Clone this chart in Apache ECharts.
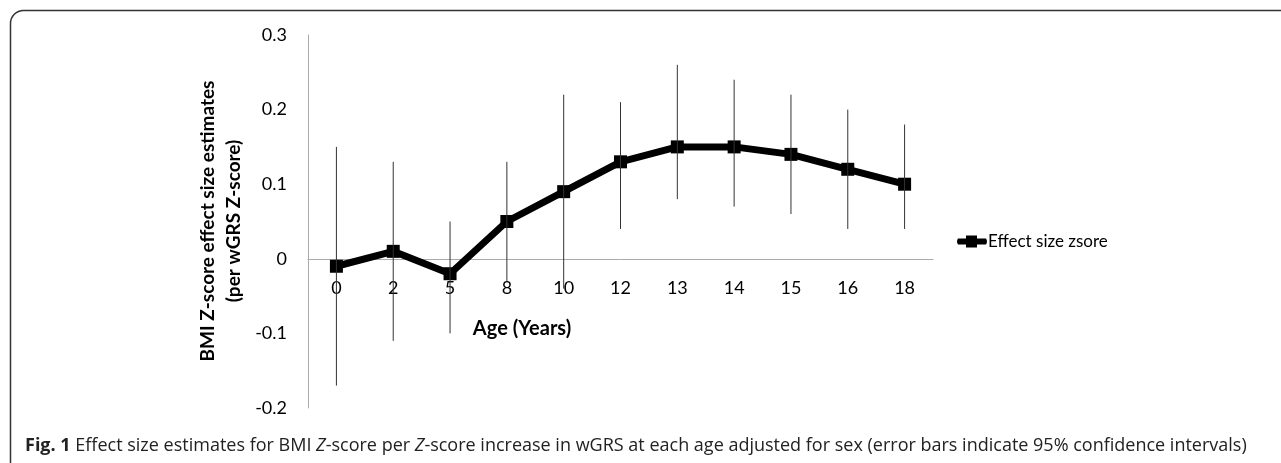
<!DOCTYPE html>
<html>
<head>
<meta charset="utf-8">
<script src="https://cdn.jsdelivr.net/npm/echarts@6/dist/echarts.min.js"></script>
<style>html,body{margin:0;padding:0;background:#fff;}#c{width:1281px;height:463px;}</style>
</head>
<body>
<div id="c"></div>
<script>
const ages = ['0','2','5','8','10','12','13','14','15','16','18'];
const effect = [-0.01, 0.01, -0.02, 0.05, 0.09, 0.13, 0.15, 0.15, 0.14, 0.12, 0.10];
const ciLower = [-0.17, -0.11, -0.10, -0.03, -0.04, 0.04, 0.08, 0.07, 0.06, 0.04, 0.04];
const ciUpper = [0.15, 0.13, 0.05, 0.13, 0.22, 0.21, 0.26, 0.24, 0.22, 0.20, 0.18];
const yTicks = {min: -0.2, max: 0.3, interval: 0.1};

const errData = ages.map((a, i) => [i, ciLower[i], ciUpper[i]]);

const gridTop = 35, gridBottom = 55, H = 463;
const plotH = H - gridTop - gridBottom;
const zeroOffset = -plotH * (0 - yTicks.min) / (yTicks.max - yTicks.min);

const chart = echarts.init(document.getElementById('c'));
chart.setOption({
  animation: false,
  backgroundColor: '#fff',
  grid: {left: 308, right: 348, top: gridTop, bottom: gridBottom, containLabel: false, outerBoundsMode: 'none'},
  legend: {
    data: [{name: 'Effect size zsore', icon: 'path://M2,3 L30,3 Q32,6 30,9 L2,9 Q0,6 2,3 Z M10,0 L21,0 L21,12 L10,12 Z'}],
    left: 952, top: 228,
    itemWidth: 32, itemHeight: 12, itemGap: 2,
    itemStyle: {color: '#000'},
    textStyle: {fontFamily: 'Lato', fontSize: 17, color: '#000', padding: [0, 0, 0, -5]}
  },
  xAxis: {
    type: 'category',
    data: ages,
    offset: zeroOffset,
    axisLine: {onZero: false, lineStyle: {color: '#aaa', width: 1}},
    axisTick: {show: false},
    axisLabel: {margin: 20, fontFamily: 'Lato', fontSize: 18, color: '#000'},
    splitLine: {show: false}
  },
  yAxis: {
    type: 'value',
    min: yTicks.min, max: yTicks.max, interval: yTicks.interval,
    axisLine: {show: true, lineStyle: {color: '#aaa', width: 1}},
    axisTick: {show: false},
    splitLine: {show: false},
    axisLabel: {
      margin: 21, fontFamily: 'Lato', fontSize: 18, color: '#000',
      formatter: v => String(Math.round(v * 10) / 10)
    }
  },
  graphic: [
    {type: 'rect', shape: {x: 10.5, y: 10.5, width: 1400, height: 600, r: 13},
     style: {fill: 'none', stroke: '#333', lineWidth: 1.5}, silent: true, z: 0},
    {type: 'text', x: 221, y: 221, rotation: Math.PI / 2,
     style: {text: 'BMI Z-score effect size estimates\n(per wGRS Z-score)', fontFamily: 'Lato', fontWeight: 'bold',
             fontSize: 19, lineHeight: 26, fill: '#000', align: 'center', verticalAlign: 'middle'}},
    {type: 'text', x: 522, y: 329,
     style: {text: 'Age (Years)', fontFamily: 'Lato', fontWeight: 'bold', fontSize: 20, fill: '#000',
             align: 'center', verticalAlign: 'middle'}},
    {type: 'text', x: 25, y: 446,
     style: {
       text: '{b|Fig. 1} Effect size estimates for BMI {i|Z}-score per {i|Z}-score increase in wGRS at each age adjusted for sex (error bars indicate 95% confidence intervals)',
       fontFamily: 'Open Sans', fontSize: 18, fill: '#222', verticalAlign: 'middle', align: 'left',
       rich: {
         b: {fontFamily: 'Open Sans', fontSize: 18, fontWeight: 'bold', fill: '#222'},
         i: {fontFamily: 'Open Sans', fontSize: 18, fontStyle: 'italic', fill: '#222'}
       }
     }}
  ],
  series: [
    {
      name: 'Effect size zsore',
      type: 'line',
      data: effect,
      symbol: 'rect',
      symbolSize: 13,
      lineStyle: {color: '#000', width: 7},
      itemStyle: {color: '#000'},
      z: 3
    },
    {
      name: 'CI',
      type: 'custom',
      data: errData,
      encode: {x: 0, y: [1, 2]},
      z: 4,
      renderItem: function (params, api) {
        const i = api.value(0);
        const p1 = api.coord([i, api.value(1)]);
        const p2 = api.coord([i, api.value(2)]);
        return {type: 'line', shape: {x1: p1[0], y1: p1[1], x2: p2[0], y2: p2[1]},
                style: {stroke: '#333', lineWidth: 1}};
      }
    }
  ]
});
</script>
</body>
</html>
